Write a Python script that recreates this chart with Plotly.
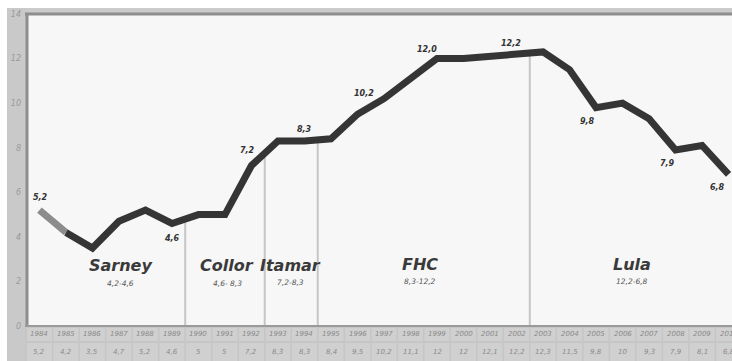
import numpy as np
import plotly.graph_objects as go

# ---------------- data ----------------
years = list(range(1984, 2011))
values = [5.2, 4.2, 3.5, 4.7, 5.2, 4.6, 5, 5, 7.2, 8.3, 8.3, 8.4, 9.5, 10.2, 11.1,
          12, 12, 12.1, 12.2, 12.3, 11.5, 9.8, 10, 9.3, 7.9, 8.1, 6.8]
labelled_years = [1984, 1989, 1992, 1994, 1997, 1999, 2002, 2005, 2008, 2010]
presidents = ["Sarney", "Collor", "Itamar", "FHC", "Lula"]
president_ranges = ["4,2-4,6", "4,6- 8,3", "7,2-8,3", "8,3-12,2", "12,2-6,8"]
term_end_years = [1989, 1992, 1994, 2002]
y_ticks = [0, 2, 4, 6, 8, 10, 12, 14]

# ---------------- styling / placement ----------------
W, H = 732, 361
ML, MT, MB = 27, 14, 35
PH = H - MT - MB
label_offsets = {1984: (1, 13), 1989: (0, -15), 1992: (-4, 15), 1994: (0, 12),
                 1997: (-20, 5), 1999: (-10, 9), 2002: (-6, 11), 2005: (-9, -14),
                 2008: (-8, -14), 2010: (-11, -13)}
president_x = [1987.04, 1991.08, 1993.49, 1998.36, 2006.36]
president_y = [2.73, 2.73, 2.73, 2.77, 2.77]
range_y = [1.92, 1.92, 1.95, 2.01, 2.01]

FONT = "DejaVu Sans"
DARK = "#353535"

def fmt(v):
    return f"{v:g}".replace(".", ",")

fig = go.Figure()

# grey first segment then dark line
fig.add_trace(go.Scatter(x=years[:2], y=values[:2], mode="lines",
                         line=dict(color="#8c8c8c", width=7), hoverinfo="skip"))
fig.add_trace(go.Scatter(x=years[1:], y=values[1:], mode="lines",
                         line=dict(color=DARK, width=7), hoverinfo="skip"))

shapes = []
annotations = []

# term divider lines
for ty in term_end_years:
    xb = ty + 0.5
    top = float(np.interp(xb, years, values))
    shapes.append(dict(type="line", xref="x", yref="y", x0=xb, x1=xb, y0=0, y1=top,
                       line=dict(color="#c6c6c6", width=2), layer="below"))

# data labels
for yr in labelled_years:
    v = values[years.index(yr)]
    dx, dy = label_offsets[yr]
    annotations.append(dict(x=yr, y=v, xref="x", yref="y", text=f"{v:.1f}".replace(".", ","),
                            showarrow=False, xshift=dx, yshift=dy,
                            font=dict(family=FONT, size=8, color="#333", weight="bold", style="italic")))

# president names
for name, rng, px, py, ry in zip(presidents, president_ranges, president_x, president_y, range_y):
    annotations.append(dict(x=px, y=py, xref="x", yref="y", text=name, showarrow=False,
                            font=dict(family=FONT, size=16, color="#3a3a3a", weight="bold", style="italic")))
    annotations.append(dict(x=px, y=ry, xref="x", yref="y", text=rng, showarrow=False,
                            font=dict(family=FONT, size=7.5, color="#555", style="italic")))

# frame: left strip, top band
def py2paper(p):
    return (H - MB - p) / PH

def px2paper(p):
    return (p - ML) / (W - ML)

shapes.append(dict(type="rect", xref="paper", yref="paper",
                   x0=px2paper(7), x1=px2paper(27), y0=py2paper(361), y1=py2paper(8),
                   fillcolor="#c9c9c9", line=dict(width=0), layer="below"))
shapes.append(dict(type="rect", xref="paper", yref="paper",
                   x0=px2paper(26), x1=px2paper(740), y0=py2paper(14), y1=py2paper(8),
                   fillcolor="#cbcbcb", line=dict(width=0), layer="above"))
shapes.append(dict(type="line", xref="paper", yref="paper",
                   x0=px2paper(25), x1=px2paper(740), y0=py2paper(14), y1=py2paper(14),
                   line=dict(color="#8e8e8e", width=3), layer="above"))
shapes.append(dict(type="line", xref="paper", yref="paper",
                   x0=px2paper(27), x1=px2paper(27), y0=py2paper(326), y1=py2paper(13),
                   line=dict(color="#8e8e8e", width=3), layer="above"))
# table background
shapes.append(dict(type="rect", xref="paper", yref="paper",
                   x0=px2paper(25), x1=px2paper(740), y0=py2paper(361), y1=py2paper(326),
                   fillcolor="#c6c6c6", line=dict(width=0), layer="above"))
shapes.append(dict(type="line", xref="paper", yref="paper",
                   x0=px2paper(25), x1=px2paper(740), y0=py2paper(326), y1=py2paper(326),
                   line=dict(color="#9a9a9a", width=2), layer="above"))

# table cells
row1 = (py2paper(341), py2paper(328))
row2 = (py2paper(361), py2paper(343))
for yr, v in zip(years, values):
    for (y0, y1), txt in ((row1, str(yr)), (row2, fmt(v))):
        shapes.append(dict(type="rect", xref="x", yref="paper", x0=yr - 0.47, x1=yr + 0.47,
                           y0=y0, y1=y1, fillcolor="#d0d0d0", line=dict(width=0), layer="above"))
        annotations.append(dict(x=yr, y=(y0 + y1) / 2, xref="x", yref="paper", text=txt,
                                showarrow=False, yanchor="middle",
                                font=dict(family=FONT, size=7, color="#8a8a8a", style="italic")))

fig.update_layout(
    width=W, height=H,
    margin=dict(l=ML, r=0, t=MT, b=MB, pad=0),
    paper_bgcolor="white",
    plot_bgcolor="#f7f7f7",
    showlegend=False,
    shapes=shapes,
    annotations=annotations,
    xaxis=dict(range=[1983.53, 2010.13], showgrid=False, zeroline=False,
               showticklabels=False, showline=False, ticks=""),
    yaxis=dict(range=[0, 14], tickvals=y_ticks, ticktext=[str(t) for t in y_ticks],
               showgrid=False, zeroline=False, showline=False, ticks="",
               ticklabelstandoff=5,
               tickfont=dict(family=FONT, size=8, color="#9a9a9a", style="italic")),
)

fig.write_html("out.html")
